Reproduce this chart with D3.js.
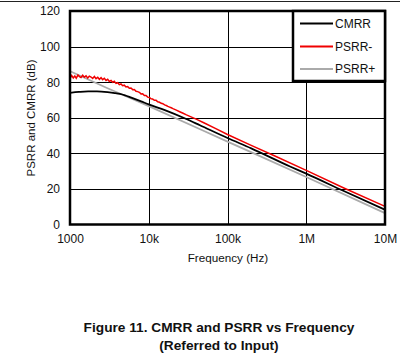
<!DOCTYPE html>
<html><head><meta charset="utf-8">
<script src="https://cdn.jsdelivr.net/npm/d3@7"></script>
<style>
html,body{margin:0;padding:0;background:#fff;}
svg{display:block;}
text{font-family:"Liberation Sans",Arial,sans-serif;fill:#111;}
</style></head>
<body>
<svg id="c" width="400" height="355"></svg>
<script>
const xTicks = [1000, 10000, 100000, 1000000, 10000000];
const xTickLabels = ["1000", "10k", "100k", "1M", "10M"];
const yTicks = [0, 20, 40, 60, 80, 100, 120];

const seriesNames = ["CMRR", "PSRR-", "PSRR+"];
const seriesColors = ["#000000", "#f00000", "#aaaaaa"];

const cmrrFreq = [1000, 1300, 1700, 2200, 3000, 3700, 4300, 5000, 6000, 8000, 10000, 16000, 30000, 44600, 100000, 200000, 622000, 1000000, 3000000, 10000000];
const cmrrDb   = [74.0, 74.5, 74.8, 74.8, 74.4, 73.9, 73.4, 72.6, 71.3, 69.2, 67.5, 64.3, 59.3, 55.8, 48.6, 42.8, 32.6, 28.6, 18.8, 8.3];

const psrrMinusFreq = [1000,1050,1100,1150,1200,1260,1320,1380,1450,1520,1600,1680,1760,1850,1940,2040,2140,2250,2360,2480,2600,2730,2870,3010,3160,3320,3480,3650,3840,4030,4230,4440,4660,4890,5140,5400,5670,5950,6250,6560,6890,7230,7590,7970,8370,8790,9230,9690,10200,10700,11200,11800,12400,13000,13700,14400,15100,15900,16700,17500,18400,19300,20300,22400,24700,27300,30100,40000,50000,70000,100000,200000,400000,1000000,3000000,10000000];
const psrrMinusDb   = [82.0,83.8,82.4,83.5,82.2,84.0,83.1,82.6,83.9,82.8,83.6,82.3,83.4,82.9,82.1,83.2,82.0,82.7,81.6,82.5,81.4,82.2,81.0,81.6,80.4,81.0,79.9,80.5,79.3,79.7,78.6,79.0,78.0,78.3,77.3,77.5,76.6,76.7,75.8,75.9,74.9,74.7,74.3,73.4,73.5,72.5,72.5,71.6,71.4,70.6,70.5,69.8,69.8,69.0,68.7,68.1,67.9,67.2,66.9,66.4,66.0,65.6,65.1,64.3,63.4,62.5,61.6,59.2,57.2,54.0,50.6,44.5,38.5,30.4,20.5,10.2];

const psrrPlusFreq = [1000, 3000, 10000, 100000, 1000000, 10000000];
const psrrPlusDb   = [86.2, 76.6, 66.5, 46.6, 26.7, 6.4];

const svg = d3.select("#c");
const L = 70, R = 385, T = 11, B = 224.5;
const x = d3.scaleLog().domain([1000, 1e7]).range([L, R]);
const y = d3.scaleLinear().domain([0, 120]).range([B, T]);

// top rule
svg.append("line").attr("x1",0).attr("x2",400).attr("y1",1.5).attr("y2",1.5)
  .attr("stroke","#222").attr("stroke-width",1);

// grid
const g = svg.append("g");
g.selectAll(".vg").data(xTicks.slice(1,-1)).join("line")
  .attr("x1",d=>Math.round(x(d))+0.5).attr("x2",d=>Math.round(x(d))+0.5)
  .attr("y1",T).attr("y2",B).attr("stroke","#000").attr("stroke-width",1);
g.selectAll(".hg").data(yTicks.slice(1,-1)).join("line")
  .attr("x1",L).attr("x2",R)
  .attr("y1",d=>Math.round(y(d))+0.5).attr("y2",d=>Math.round(y(d))+0.5)
  .attr("stroke","#000").attr("stroke-width",1);

// axes labels via d3 axes (no ticks drawn)
const xAxis = d3.axisBottom(x).tickValues(xTicks).tickFormat((d,i)=>xTickLabels[i]).tickSize(0).tickPadding(10);
const xa = svg.append("g").attr("transform",`translate(0,${B})`).call(xAxis);
xa.select(".domain").remove();
xa.selectAll("text").attr("font-size",12).attr("fill","#111").attr("font-family","Liberation Sans, Arial, sans-serif");

const yAxis = d3.axisLeft(y).tickValues(yTicks).tickSize(0).tickPadding(10);
const ya = svg.append("g").attr("transform",`translate(${L},0)`).call(yAxis);
ya.select(".domain").remove();
ya.selectAll("text").attr("font-size",12).attr("fill","#111").attr("font-family","Liberation Sans, Arial, sans-serif");

// series
const line = d3.line().x(d=>x(d[0])).y(d=>y(d[1]));
const lineSmooth = d3.line().x(d=>x(d[0])).y(d=>y(d[1])).curve(d3.curveMonotoneX);
const plot = svg.append("g");
plot.append("path").datum(d3.zip(psrrPlusFreq, psrrPlusDb))
  .attr("d", lineSmooth).attr("fill","none").attr("stroke",seriesColors[2]).attr("stroke-width",1.8);
plot.append("path").datum(d3.zip(cmrrFreq, cmrrDb))
  .attr("d", lineSmooth).attr("fill","none").attr("stroke",seriesColors[0]).attr("stroke-width",1.8);
plot.append("path").datum(d3.zip(psrrMinusFreq, psrrMinusDb))
  .attr("d", line).attr("fill","none").attr("stroke",seriesColors[1]).attr("stroke-width",1.5);

// border
svg.append("rect").attr("x",L).attr("y",T).attr("width",R-L).attr("height",B-T)
  .attr("fill","none").attr("stroke","#000").attr("stroke-width",2.5);

// legend
const lg = svg.append("g");
lg.append("rect").attr("x",293).attr("y",T).attr("width",R-293).attr("height",70)
  .attr("fill","#fff").attr("stroke","#000").attr("stroke-width",2.5);
const rows = [23.5, 46.5, 69];
seriesNames.forEach((n,i)=>{
  lg.append("line").attr("x1",300).attr("x2",333).attr("y1",rows[i]).attr("y2",rows[i])
    .attr("stroke",seriesColors[i]).attr("stroke-width",2);
  lg.append("text").attr("x",335).attr("y",rows[i]+4).attr("font-size",12).text(n);
});

// titles
svg.append("text").attr("x",228).attr("y",262).attr("text-anchor","middle").attr("font-size",11.7).text("Frequency (Hz)");
svg.append("text").attr("transform","translate(35,118) rotate(-90)").attr("text-anchor","middle").attr("font-size",11.5).text("PSRR and CMRR (dB)");

svg.append("text").attr("x",219).attr("y",332).attr("text-anchor","middle").attr("font-size",13.7).attr("font-weight","bold").text("Figure 11. CMRR and PSRR vs Frequency");
svg.append("text").attr("x",219).attr("y",350).attr("text-anchor","middle").attr("font-size",13.7).attr("font-weight","bold").text("(Referred to Input)");
</script>
</body></html>
